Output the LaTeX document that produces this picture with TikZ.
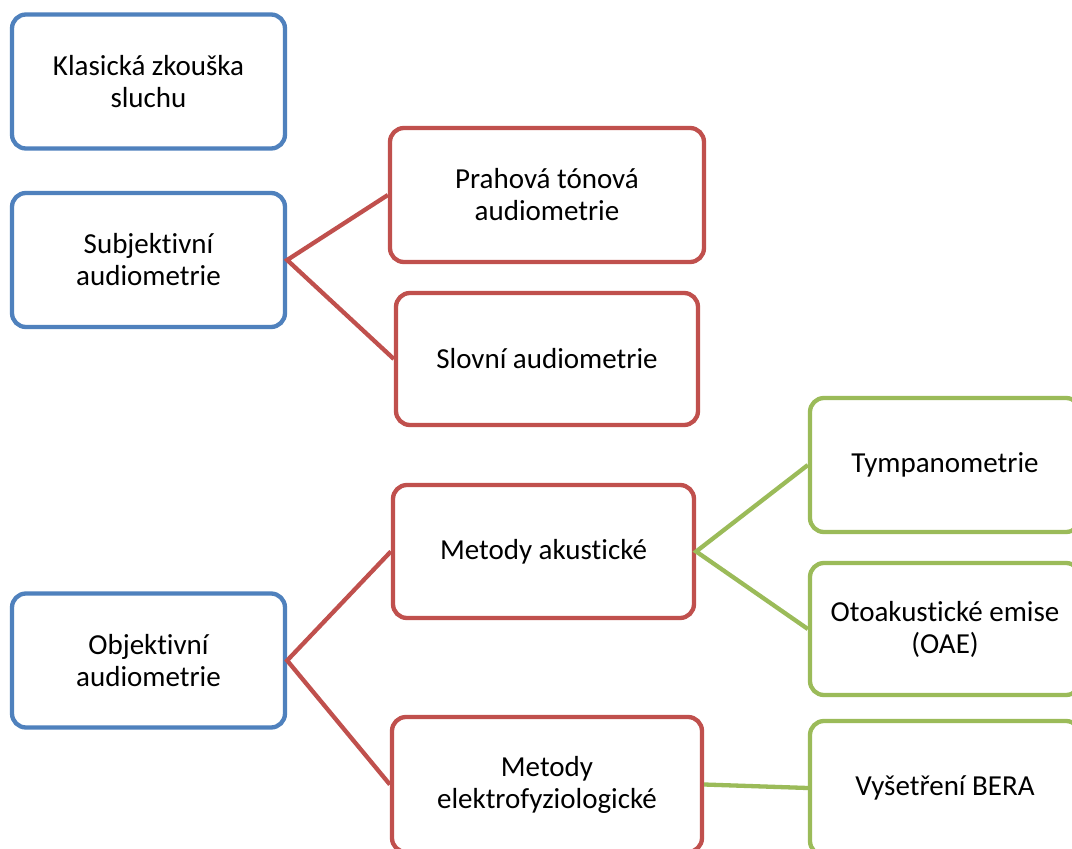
\documentclass[tikz,border=0pt]{standalone}
\usepackage{fontspec}
\setmainfont{Carlito}[RawFeature=-liga]
\definecolor{cblue}{HTML}{4F81BD}
\definecolor{cred}{HTML}{C0504D}
\definecolor{cgreen}{HTML}{9BBB59}
\begin{document}
\begin{tikzpicture}[x=1pt,y=-1pt,
  box/.style={draw, line width=4.3pt, rounded corners=14pt, fill=white, inner sep=0pt,
    align=center, font=\fontsize{29}{32}\selectfont, text=black},
  bluebox/.style={box, draw=cblue, minimum width=273pt, minimum height=134pt},
  redbox/.style={box, draw=cred},
  greenbox/.style={box, draw=cgreen, minimum width=270pt, minimum height=134pt},
  redline/.style={draw=cred, line width=4.3pt},
  greenline/.style={draw=cgreen, line width=4.3pt}]
\useasboundingbox (0,0) rectangle (1072,849);
\clip (0,0) rectangle (1072,849);
\fill[white] (0,0) rectangle (1072,849);
% level 1
\node[bluebox] (klas) at (148.5,81.5) {Klasická zkouška\\sluchu};
\node[bluebox] (subj) at (148.5,260) {Subjektivní\\audiometrie};
\node[bluebox] (obj) at (148.5,660.5) {Objektivní\\audiometrie};
% level 2
\node[redbox, minimum width=314pt, minimum height=134pt] (prah) at (547,195) {Prahová tónová\\audiometrie};
\node[redbox, minimum width=302pt, minimum height=132pt] (slov) at (547,359) {Slovní audiometrie};
\node[redbox, minimum width=301pt, minimum height=133pt] (akus) at (543.5,551.5) {Metody akustické};
\node[redbox, minimum width=310pt, minimum height=135pt] (elek) at (547,784.5) {Metody\\elektrofyziologické};
% level 3
\node[greenbox] (tymp) at (945,465) {Tympanometrie};
\node[greenbox, minimum height=132pt] (oae) at (945,629) {Otoakustické emise\\(OAE)};
\node[greenbox] (bera) at (945,788) {Vyšetření BERA};
% connectors
\draw[redline] (prah.west) -- (subj.east) -- (slov.west);
\draw[redline] (akus.west) -- (obj.east) -- (elek.west);
\draw[greenline] (tymp.west) -- (akus.east) -- (oae.west);
\draw[greenline] (elek.east) -- (bera.west);
\end{tikzpicture}
\end{document}
